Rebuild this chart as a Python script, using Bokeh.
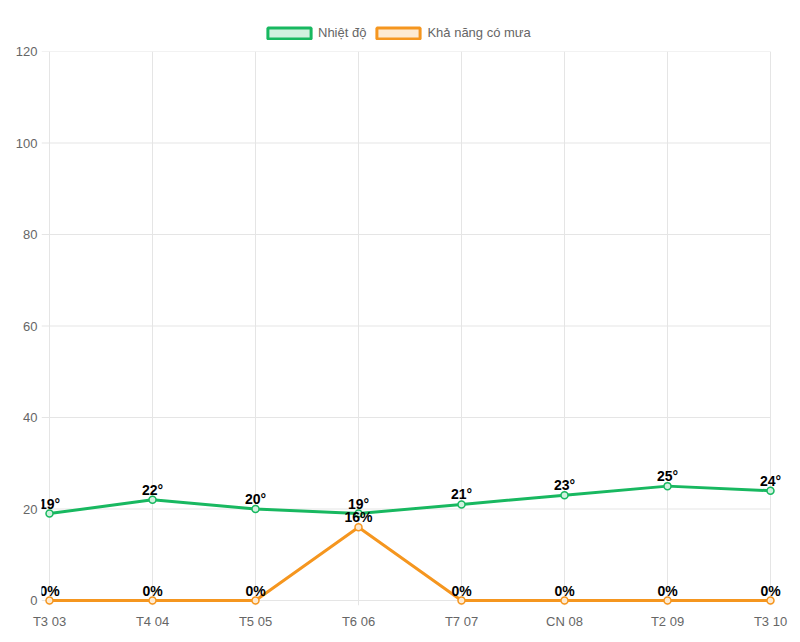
from bokeh.plotting import figure
from bokeh.layouts import column
from bokeh.models import (ColumnDataSource, Range1d, FixedTicker, Legend, LegendItem)
from bokeh.core.properties import value
from bokeh.embed import file_html
from bokeh.resources import INLINE

days = ["T3 03", "T4 04", "T5 05", "T6 06", "T7 07", "CN 08", "T2 09", "T3 10"]
temperature = [19, 22, 20, 19, 21, 23, 25, 24]
rain_chance = [0, 0, 0, 16, 0, 0, 0, 0]
y_ticks = [0, 20, 40, 60, 80, 100, 120]

GREEN = "#18b860"
GREEN_FILL = "#d1f1df"
ORANGE = "#f5961f"
ORANGE_FILL = "#fdead2"
GRID = "#e5e5e5"
FONT = "Liberation Sans"

n = len(days)
xs = list(range(n))
src = ColumnDataSource(dict(
    x=xs, t=temperature, r=rain_chance,
    tl=[f"{v}°" for v in temperature],
    rl=[f"{v}%" for v in rain_chance],
))

# pixel geometry of the plotting area (category 0 -> 49px, last -> 770px)
px_per_x = (770 - 49) / (n - 1)
px_per_y = (600 - 51) / 120
x_start = -8 / px_per_x
x_end = (n - 1) + 20 / px_per_x
y_start = -5 / px_per_y

p = figure(width=800, height=600, output_backend="svg", toolbar_location=None,
           x_range=Range1d(x_start, x_end), y_range=Range1d(y_start, 120),
           min_border_left=41, min_border_right=10, min_border_top=11,
           min_border_bottom=35)
p.outline_line_color = None

for ax in (p.xaxis[0], p.yaxis[0]):
    ax.axis_line_color = None
    ax.major_tick_line_color = None
    ax.major_tick_out = 0
    ax.major_tick_in = 0
    ax.minor_tick_line_color = None
    ax.major_label_text_color = "#666666"
    ax.major_label_text_font = FONT
    ax.major_label_text_font_size = "13px"
p.xaxis.ticker = FixedTicker(ticks=xs)
p.xaxis.major_label_overrides = {i: d for i, d in enumerate(days)}
p.xaxis.major_label_standoff = 8
p.yaxis.ticker = FixedTicker(ticks=y_ticks)
p.yaxis.major_label_standoff = 4

p.xgrid.ticker = FixedTicker(ticks=xs)
p.xgrid.grid_line_color = GRID
p.ygrid.grid_line_color = None
# horizontal grid lines (with left tick stubs) ending at the last category
p.segment(x0=[x_start] * len(y_ticks), x1=[n - 1] * len(y_ticks),
          y0=y_ticks, y1=y_ticks, line_color=GRID, line_width=1)

# series
p.line("x", "t", source=src, line_color=GREEN, line_width=3)
p.scatter("x", "t", source=src, size=7, fill_color=GREEN_FILL, line_color=GREEN, line_width=1.5)
p.line("x", "r", source=src, line_color=ORANGE, line_width=3)
p.scatter("x", "r", source=src, size=7, fill_color=ORANGE_FILL, line_color=ORANGE, line_width=1.5)

for col, lab in (("t", "tl"), ("r", "rl")):
    p.text("x", col, text=lab, source=src, text_font=value(FONT), text_font_style="bold",
           text_font_size="14px", text_color="black", text_align="center",
           text_baseline="bottom", y_offset=-2)

# legend figure
lf = figure(width=800, height=40, output_backend="svg", toolbar_location=None,
            x_range=Range1d(0, 1), y_range=Range1d(0, 1),
            min_border=0, min_border_left=0, min_border_right=0,
            min_border_top=0, min_border_bottom=0)
lf.axis.visible = False
lf.grid.visible = False
lf.outline_line_color = None
nan = float("nan")
proxy = ColumnDataSource(dict(x=[nan], y=[nan]))
g1 = lf.rect("x", "y", width=1, height=1, source=proxy, fill_color=GREEN_FILL,
             line_color=GREEN, line_width=3)
g2 = lf.rect("x", "y", width=1, height=1, source=proxy, fill_color=ORANGE_FILL,
             line_color=ORANGE, line_width=3)
legend = Legend(items=[LegendItem(label="Nhiệt độ", renderers=[g1]),
                       LegendItem(label="Khả năng có mưa", renderers=[g2])],
                orientation="horizontal", location=(221, 0),
                glyph_width=54, glyph_height=14, spacing=5, padding=0, margin=1,
                label_standoff=2, label_height=14,
                label_text_font=FONT, label_text_font_size="13px",
                label_text_color="#666666", border_line_color=None,
                background_fill_alpha=0)
lf.add_layout(legend, "center")

open("out.html", "w").write(file_html(column(lf, p, spacing=0), INLINE))
